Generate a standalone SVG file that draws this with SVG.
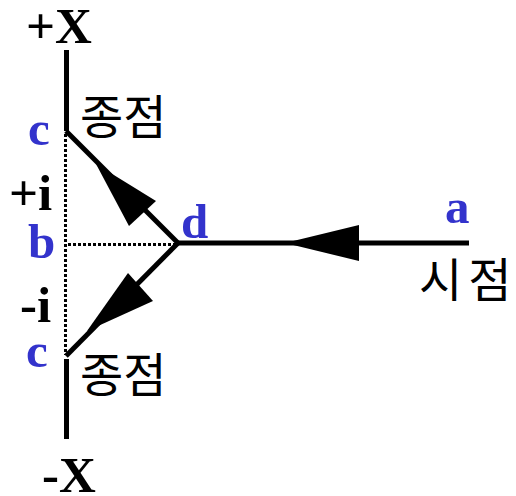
<svg xmlns="http://www.w3.org/2000/svg" width="516" height="496" viewBox="0 0 516 496">
<style>
.ln{stroke:#000;stroke-width:5;fill:none}
.dot{stroke:#000;stroke-width:3;stroke-dasharray:3 2;fill:none}
.ar{fill:#000;stroke:none}
.sym{font-family:"Liberation Serif",serif;font-weight:bold;font-size:51px;fill:#000}
.pt{font-family:"Liberation Serif",serif;font-weight:bold;font-size:49px;fill:#3333cc}
.ko{font-family:"Noto Sans CJK KR","Noto Sans",sans-serif;font-size:47px;fill:#000}
</style>
<rect width="516" height="496" fill="#fff"/>
<g id="connectors">
<line class="ln" x1="66.5" y1="50" x2="66.5" y2="131"/>
<line class="dot" x1="65.5" y1="134" x2="65.5" y2="355"/>
<line class="ln" x1="66.5" y1="359" x2="66.5" y2="439"/>
<line class="dot" x1="68" y1="244.5" x2="176" y2="244.5"/>
<line class="ln" x1="178" y1="243" x2="469" y2="243"/>
<line class="ln" x1="66" y1="131" x2="178" y2="243"/>
<line class="ln" x1="178" y1="243" x2="66" y2="356"/>
<polygon class="ar" points="285,243 359,225 359,261"/>
<polygon class="ar" points="96,164 156,201 129,226"/>
<polygon class="ar" points="87,331 128,273 153,301"/>
</g>
<g id="axis-plus"><text class="sym" x="26" y="43">+X</text></g>
<g id="axis-minus"><text class="sym" x="42" y="492">-X</text></g>
<g id="label-plus-i"><text class="sym" x="9" y="210">+i</text></g>
<g id="label-minus-i"><text class="sym" x="20" y="322">-i</text></g>
<g id="node-c-top"><text class="pt" x="28" y="145">c</text><text class="ko" x="80" y="134">종점</text></g>
<g id="node-c-bottom"><text class="pt" x="26" y="367">c</text><text class="ko" x="80" y="392">종점</text></g>
<g id="node-b"><text class="pt" x="28" y="258">b</text></g>
<g id="node-d"><text class="pt" x="181" y="238">d</text></g>
<g id="node-a"><text class="pt" x="445" y="223">a</text><text class="ko" x="419" y="297" letter-spacing="6">시점</text></g>
</svg>
